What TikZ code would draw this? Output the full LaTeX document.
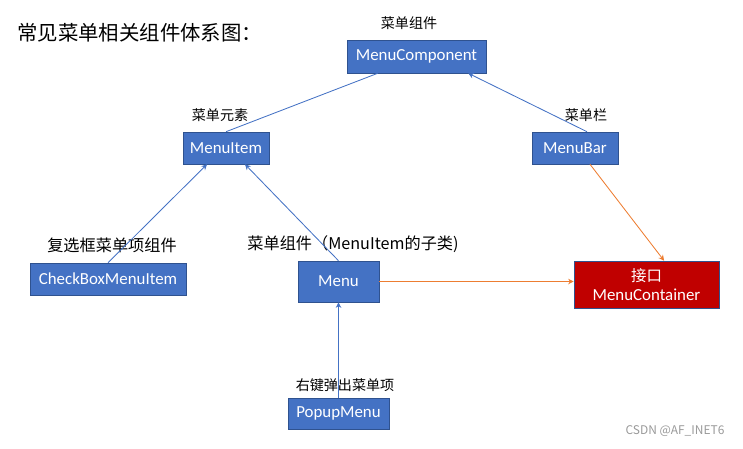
\documentclass[tikz,border=0pt]{standalone}
\usepackage{fontspec}
\setmainfont{Carlito}
\newfontfamily\cjk{Noto Sans CJK SC}
\usetikzlibrary{arrows.meta,positioning}
\definecolor{boxblue}{HTML}{4472C4}
\definecolor{boxline}{HTML}{2F528F}
\definecolor{ifcred}{HTML}{C00000}
\definecolor{linkorange}{HTML}{ED7D31}

\tikzset{
  cls/.style={draw=boxline, fill=boxblue, text=white, font=\fontsize{12}{14}\selectfont, inner sep=0pt},
  tag/.style={font=\cjk\fontsize{10}{12}\selectfont, inner sep=0pt},
  bigtag/.style={font=\cjk\fontsize{11.5}{13}\selectfont, inner sep=0pt},
  blink/.style={draw=boxblue, line width=0.6pt},
  olink/.style={draw=linkorange, line width=0.6pt},
}

\begin{document}
\begin{tikzpicture}[x=0.025cm, y=-0.025cm, >={Stealth[length=4pt,width=4pt]}]
    \useasboundingbox (0,0) rectangle (743,448);
    \node[anchor=west, font=\cjk\fontsize{14.5}{17}\selectfont, inner sep=0pt] (title) at (17,33) {常见菜单相关组件体系图：};

    % class boxes
    \node[cls, minimum width=3.475cm, minimum height=0.825cm] (mc) at (416.5,56.5) {MenuComponent};
    \node[cls, minimum width=2.15cm, minimum height=0.8cm] (mi) at (226,148) {MenuItem};
    \node[cls, minimum width=2.15cm, minimum height=0.8cm] (mb) at (575,148) {MenuBar};
    \node[cls, minimum width=3.9cm, minimum height=0.8cm] (cb) at (108,279) {CheckBoxMenuItem};
    \node[cls, minimum width=2.025cm, minimum height=1.025cm] (mn) at (338.5,281.5) {Menu};
    \node[cls, fill=ifcred, align=center, font=\fontsize{12}{13.5}\selectfont, minimum width=3.625cm, minimum height=1.175cm] (ifc) at (646.5,284.5) {{\cjk\fontsize{11}{13}\selectfont 接口}\\MenuContainer};
    \node[cls, minimum width=2.525cm, minimum height=0.775cm] (pm) at (338.5,413.5) {PopupMenu};

    % labels
    \node[tag] (mctag) at (409,23) {菜单组件};
    \node[tag] (mitag) at (220,115) {菜单元素};
    \node[tag] (mbtag) at (586,115) {菜单栏};
    \node[bigtag] (cbtag) at (112,245) {复选框菜单项组件};
    \node[bigtag] (mntag) at (353,244) {菜单组件（MenuItem的子类)};
    \node[tag] (pmtag) at (345,385) {右键弹出菜单项};

    % connectors
    \draw[blink] (mi.north) -- ([xshift=0.775cm]mc.south west);
    \draw[blink, ->] ([xshift=0.3cm]mb.north) -- ([xshift=-0.45cm]mc.south east);
    \draw[blink, ->] (cb.north) -- ([xshift=-0.475cm]mi.south);
    \draw[blink, ->] (mn.north) -- ([xshift=0.475cm]mi.south);
    \draw[blink, ->] (pm.north) -- (mn.south);
    \draw[olink, ->] ([xshift=0.375cm]mb.south) -- ([xshift=0.44cm]ifc.north);
    \draw[olink, ->] (mn.east) -- (mn.east -| ifc.west);

    \node[text=gray!80, font=\cjk\fontsize{8.5}{10}\selectfont, inner sep=0pt] (wm) at (675,431) {CSDN @AF\_INET6};
\end{tikzpicture}
\end{document}
